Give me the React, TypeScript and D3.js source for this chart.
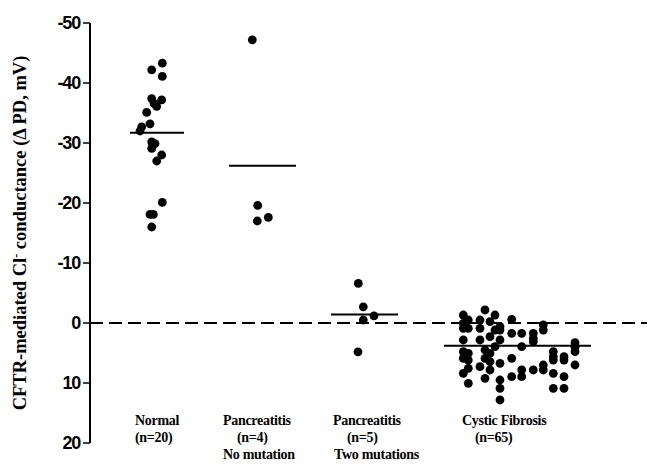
import React from "react";
import * as d3 from "d3";

const W = 647;
const H = 464;

const yTicks = [-50, -40, -30, -20, -10, 0, 10, 20];

const normalValues = [-43.3, -42.2, -41.1, -37.4, -37.2, -36.1, -35.1, -33.2, -32.7, -32.0, -36.6, -30.2, -29.9, -29.1, -28.0, -27.0, -20.1, -18.1, -18.1, -16.0];
const normalX = [0.723, 0.617, 0.723, 0.617, 0.717, 0.667, 0.567, 0.6, 0.517, 0.5, 0.64, 0.617, 0.65, 0.617, 0.717, 0.667, 0.723, 0.6, 0.633, 0.617];

const pancNoMutValues = [-47.2, -19.6, -17.0, -17.6];
const pancNoMutX = [1.623, 1.677, 1.673, 1.783];

const pancTwoMutValues = [-6.6, -2.7, -1.2, -0.5, 4.8];
const pancTwoMutX = [2.683, 2.733, 2.84, 2.733, 2.68];

const cfValues = [
  -1.33, 0.06, 0.89, 2.83, 4.78, 5.89, 8.39,
  -0.5, 0.89, 5.06, 6.17, 7.56, 10.06,
  -0.5, 0.89, 2.83, 7.28,
  -2.17, 4.5, 5.89, 9.22,
  -0.22, 2.28, 5.06, 6.44, 7.83,
  -1.33, 1.17, 3.94,
  0.61, 1.17, 2.83, 6.72, 9.5, 10.89, 12.83,
  -0.61, 1.72, 5.89, 8.94,
  1.72, 3.94, 7.83, 8.94,
  1.72, 2.56, 3.11, 7.83,
  0.33, 1.17, 7.0, 7.83,
  4.78, 5.61, 6.17, 8.39, 10.89,
  5.61, 6.17, 8.94, 10.89,
  3.28, 4.06, 4.78, 7.0,
];
const cfX = [
  3.733, 3.733, 3.733, 3.733, 3.733, 3.733, 3.733,
  3.783, 3.783, 3.783, 3.783, 3.783, 3.783,
  3.9, 3.9, 3.9, 3.9,
  3.95, 3.95, 3.95, 3.95,
  4.0, 4.0, 4.0, 4.0, 4.0,
  4.05, 4.05, 4.05,
  4.1, 4.1, 4.1, 4.1, 4.1, 4.1, 4.1,
  4.217, 4.217, 4.217, 4.217,
  4.317, 4.317, 4.317, 4.317,
  4.433, 4.433, 4.433, 4.433,
  4.533, 4.533, 4.533, 4.533,
  4.633, 4.633, 4.633, 4.633, 4.633,
  4.74, 4.74, 4.74, 4.74,
  4.85, 4.85, 4.85, 4.85,
];

const groupMeans = [-31.7, -26.2, -1.4, 3.8];
const meanStart = [0.4, 1.39, 2.41, 3.54];
const meanEnd = [0.94, 2.06, 3.08, 5.01];

const groupLabels = [
  ["Normal", "(n=20)"],
  ["Pancreatitis", "(n=4)", "No mutation"],
  ["Pancreatitis", "(n=5)", "Two mutations"],
  ["Cystic Fibrosis", "(n=65)"],
];
const labelX = [
  [0.45, 0.45],
  [1.33, 1.47, 1.33],
  [2.43, 2.57, 2.44],
  [3.72, 3.85],
];

export default function App() {
  const y = d3.scaleLinear().domain([-50, 20]).range([23, 443]);
  const x = d3.scaleLinear().domain([0, 5.57]).range([90, 647]);
  const axisX = x(0);

  const points = [
    ...normalValues.map((v, i) => ({ v, x: normalX[i] })),
    ...pancNoMutValues.map((v, i) => ({ v, x: pancNoMutX[i] })),
    ...pancTwoMutValues.map((v, i) => ({ v, x: pancTwoMutX[i] })),
    ...cfValues.map((v, i) => ({ v, x: cfX[i] })),
  ];

  const lineBaselines = [425, 442, 459];

  return (
    <svg
      width={W}
      height={H}
      style={{ position: "absolute", left: 0, top: 0, background: "#fff" }}
    >
      {/* zero dashed line */}
      <line
        x1={axisX}
        x2={W}
        y1={y(0)}
        y2={y(0)}
        stroke="#000"
        strokeWidth={2}
        strokeDasharray="13,6"
      />
      {/* axis */}
      <line x1={axisX} x2={axisX} y1={y(-50)} y2={y(20)} stroke="#000" strokeWidth={2} />
      {yTicks.map((t) => (
        <g key={t}>
          <line x1={axisX - 7} x2={axisX} y1={y(t)} y2={y(t)} stroke="#000" strokeWidth={1.5} />
          <text
            x={axisX - 10}
            y={y(t)}
            dy="0.36em"
            textAnchor="end"
            fontFamily="Liberation Sans, Arial, sans-serif"
            fontWeight="bold"
            fontSize={18}
            letterSpacing={-1.2}
          >
            {t}
          </text>
        </g>
      ))}
      {/* y title */}
      <text
        transform={`translate(26,${233}) rotate(-90)`}
        textAnchor="middle"
        fontFamily="Liberation Serif, Times New Roman, serif"
        fontWeight="bold"
        fontSize={18.5}
      >
        CFTR-mediated Cl
        <tspan dy={-6} fontSize={12}>-</tspan>
        <tspan dy={6}> conductance (Δ PD, mV)</tspan>
      </text>
      {/* mean lines */}
      {groupMeans.map((m, i) => (
        <line
          key={i}
          x1={x(meanStart[i])}
          x2={x(meanEnd[i])}
          y1={y(m)}
          y2={y(m)}
          stroke="#000"
          strokeWidth={2}
        />
      ))}
      {/* points */}
      {points.map((p, i) => (
        <circle key={i} cx={x(p.x)} cy={y(p.v)} r={4.4} fill="#000" />
      ))}
      {/* group labels */}
      {groupLabels.map((lines, gi) =>
        lines.map((s, li) => (
          <text
            key={`${gi}-${li}`}
            x={x(labelX[gi][li])}
            y={lineBaselines[li]}
            fontFamily="Liberation Serif, Times New Roman, serif"
            fontWeight="bold"
            fontSize={14}
            letterSpacing={-0.3}
          >
            {s}
          </text>
        ))
      )}
    </svg>
  );
}
